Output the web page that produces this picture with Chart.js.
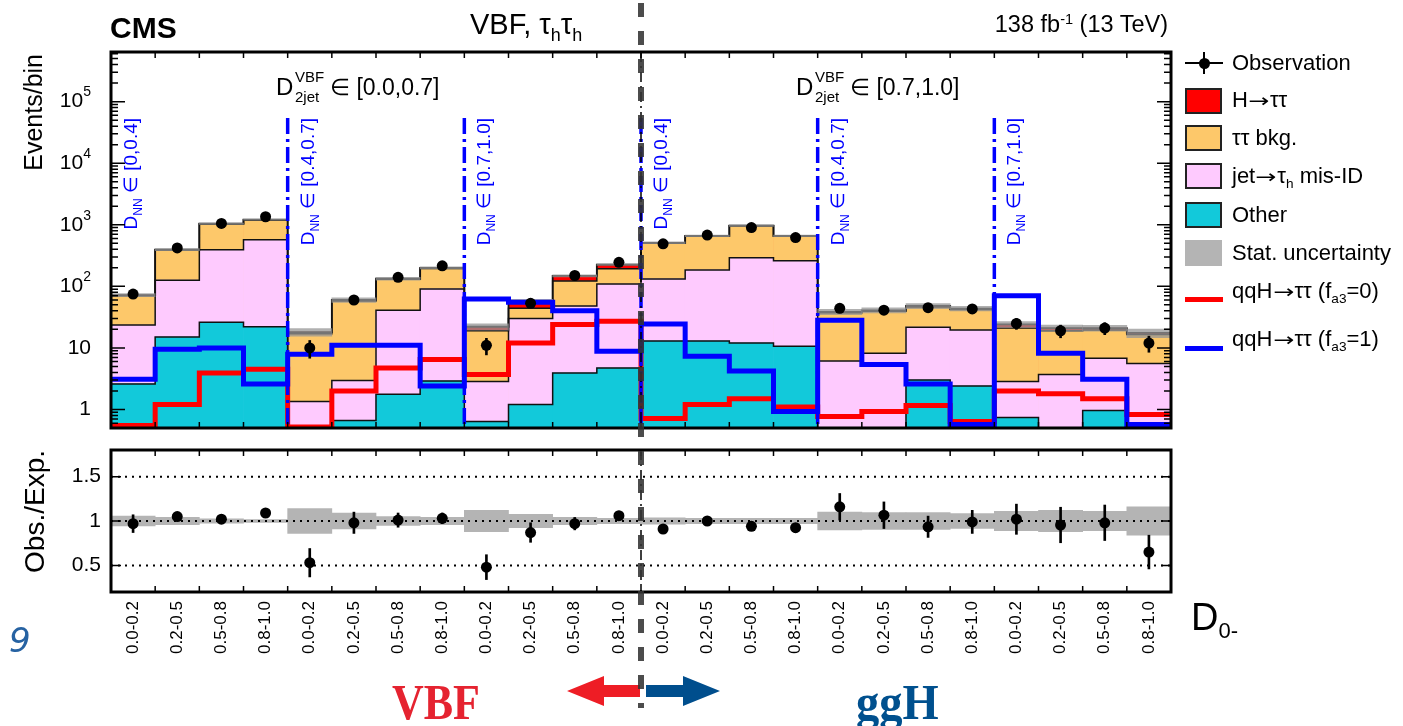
<!DOCTYPE html>
<html>
<head>
<meta charset="utf-8">
<title>VBF tau_h tau_h, D0- distribution</title>
<script src="https://cdn.jsdelivr.net/npm/chart.js@4.4.1/dist/chart.umd.min.js"></script>
<style>
  html, body { margin: 0; background: #fff; }
  #page { position: relative; width: 1403px; height: 726px; overflow: hidden; font-family: "Liberation Sans", Arial, Helvetica, sans-serif; }
  #page canvas { position: absolute; left: 0; }
  .t { position: absolute; white-space: nowrap; line-height: 1; color: #000; }
  .sub { font-size: 0.62em; position: relative; top: 0.38em; }
  .sup { font-size: 0.62em; position: relative; top: -0.52em; }
  .ar { font-family: "DejaVu Sans", sans-serif; font-size: 0.85em; display: inline-block; transform: scaleX(1.35); margin: 0 0.17em; }
  .box { position: absolute; left: 1185px; width: 37px; height: 26px; box-sizing: border-box; border: 2px solid #222; }
  .lline { position: absolute; left: 1185px; width: 38px; height: 5px; }
</style>
</head>
<body>
<div id="page">
  <canvas id="main" width="1403" height="440" style="top:0"></canvas>
  <canvas id="ratio" width="1403" height="240" style="top:440px"></canvas>
  <canvas id="deco" width="1403" height="726" style="top:0"></canvas>

  <!-- header -->
  <div class="t" style="left:110px;top:13px;font-size:30px;font-weight:bold;">CMS</div>
  <div class="t" style="left:470px;top:10px;font-size:29px;">VBF, τ<span class="sub">h</span>τ<span class="sub">h</span></div>
  <div class="t" style="right:235px;top:13px;font-size:23.5px;">138 fb<span class="sup">-1</span> (13 TeV)</div>

  <!-- D_2jet annotations -->
  <div class="t" style="left:276px;top:75px;font-size:24px;">D</div>
  <div class="t" style="left:295px;top:69px;font-size:15px;">VBF</div>
  <div class="t" style="left:295px;top:89px;font-size:15px;">2jet</div>
  <div class="t" style="left:330px;top:76px;font-size:23px;">∈ [0.0,0.7]</div>
  <div class="t" style="left:796px;top:75px;font-size:24px;">D</div>
  <div class="t" style="left:815px;top:69px;font-size:15px;">VBF</div>
  <div class="t" style="left:815px;top:89px;font-size:15px;">2jet</div>
  <div class="t" style="left:850px;top:76px;font-size:23px;">∈ [0.7,1.0]</div>

  <!-- legend -->
  <div style="position:absolute;left:1185px;top:62px;width:38px;height:2px;background:#000"></div>
  <div style="position:absolute;left:1203px;top:52px;width:2px;height:22px;background:#000"></div>
  <div style="position:absolute;left:1199px;top:58px;width:11px;height:11px;border-radius:50%;background:#000"></div>
  <div class="t" style="left:1232px;top:52px;font-size:22px;">Observation</div>
  <div class="box" style="top:88px;background:#ff0000"></div>
  <div class="t" style="left:1232px;top:89px;font-size:22px;">H<span class="ar">→</span>ττ</div>
  <div class="box" style="top:125px;background:#fdc86a"></div>
  <div class="t" style="left:1232px;top:127px;font-size:22px;">ττ bkg.</div>
  <div class="box" style="top:163px;background:#fecafe"></div>
  <div class="t" style="left:1232px;top:165px;font-size:22px;">jet<span class="ar">→</span>τ<span class="sub">h</span> mis-ID</div>
  <div class="box" style="top:202px;background:#12c9da"></div>
  <div class="t" style="left:1232px;top:204px;font-size:22px;">Other</div>
  <div class="box" style="top:240px;background:#b4b4b4;border:none"></div>
  <div class="t" style="left:1232px;top:242px;font-size:22px;">Stat. uncertainty</div>
  <div class="lline" style="top:297px;background:#ff0000"></div>
  <div class="t" style="left:1232px;top:280px;font-size:22px;">qqH<span class="ar">→</span>ττ (f<span class="sub">a3</span>=0)</div>
  <div class="lline" style="top:346px;background:#0000ff"></div>
  <div class="t" style="left:1232px;top:328px;font-size:22px;">qqH<span class="ar">→</span>ττ (f<span class="sub">a3</span>=1)</div>

  <!-- x title and bottom labels -->
  <div class="t" style="left:1191px;top:598px;font-size:38px;">D<span style="font-size:0.58em;position:relative;top:0.35em">0-</span></div>
  <div class="t" style="left:9px;top:623px;font-size:34px;color:#2662a2;font-family:'DejaVu Sans',sans-serif;font-style:italic;">9</div>
  <div class="t" style="left:392px;top:677px;font-size:50px;font-weight:bold;font-family:'Liberation Serif',serif;color:#e52330;transform:scaleX(0.88);transform-origin:left top;">VBF</div>
  <div class="t" style="left:856px;top:677px;font-size:50px;font-weight:bold;font-family:'Liberation Serif',serif;color:#00508e;transform:scaleX(0.93);transform-origin:left top;">ggH</div>
</div>

<script>
// bin labels along D0- (six D_NN x D_2jet categories, four D0- bins each)
const binLabels = [
  '0.0-0.2', '0.2-0.5', '0.5-0.8', '0.8-1.0', '0.0-0.2', '0.2-0.5', '0.5-0.8', '0.8-1.0',
  '0.0-0.2', '0.2-0.5', '0.5-0.8', '0.8-1.0', '0.0-0.2', '0.2-0.5', '0.5-0.8', '0.8-1.0',
  '0.0-0.2', '0.2-0.5', '0.5-0.8', '0.8-1.0', '0.0-0.2', '0.2-0.5', '0.5-0.8', '0.8-1.0',
];

// stacked backgrounds, events per bin
const otherBkg = [2.6, 15, 26, 22, 0.4, 0.66, 1.76, 2.9, 0.64, 1.2, 3.9, 4.7, 12.9, 12.9, 12, 10.6, 0.3, 0.3, 3.0, 2.4, 0.74, 0.3, 0.96, 0.3];
const misIdBkg = [20.9, 111, 366, 548, 0.95, 2.3, 39, 88, 2.2, 28.8, 44, 104, 119, 172, 278, 249, 5.8, 7.9, 18.7, 17.1, 2.1, 3.4, 5.8, 5.3];
const ttBkg = [46.5, 264, 638, 630, 15.7, 55, 89, 104, 16.2, 14, 74, 84, 368, 465, 670, 390, 31, 31, 24.3, 22.5, 18.2, 15.3, 12.7, 10.9];
const hTauTau = [2, 5, 10, 10, 1, 2, 3, 5, 3, 13, 26, 32, 10, 10, 10, 10, 1.5, 1.5, 2, 1.5, 3, 2, 1.5, 1];
const statRel = [0.055, 0.04, 0.025, 0.015, 0.14, 0.09, 0.05, 0.04, 0.12, 0.075, 0.04, 0.03, 0.035, 0.03, 0.03, 0.03, 0.10, 0.095, 0.095, 0.085, 0.11, 0.12, 0.11, 0.16];

// qqH templates
const qqHfa30 = [0.55, 1.2, 3.9, 4.5, 0.52, 2.0, 4.7, 6.5, 3.7, 12, 24, 27, 0.71, 1.2, 1.5, 1.1, 0.77, 0.93, 1.16, 0.64, 2.0, 1.8, 1.5, 0.83];
const qqHfa31 = [3.1, 9.5, 10, 2.6, 7.9, 11, 11, 2.4, 62, 55, 40, 8.8, 24.5, 7.3, 4.2, 0.93, 28, 5.4, 2.6, 0.57, 70, 8.2, 3.1, 0.57];

// observation
const obsEvents = [75, 420, 1050, 1350, 10, 60, 140, 215, 11, 53, 150, 245, 490, 680, 900, 620, 44, 41, 45, 43, 25, 19, 21, 12];
const obsErr = [9, 20, 32, 37, 3.2, 7.7, 12, 15, 3.3, 7.3, 12, 16, 22, 26, 30, 25, 6.6, 6.4, 6.7, 6.6, 5, 4.4, 4.6, 3.5];

// ratio panel
const ratioObs = [0.97, 1.05, 1.02, 1.09, 0.53, 0.98, 1.01, 1.03, 0.48, 0.87, 0.97, 1.06, 0.91, 1.0, 0.94, 0.925, 1.16, 1.065, 0.935, 0.99, 1.02, 0.955, 0.98, 0.65];
const ratioErr = [0.1, 0.04, 0.03, 0.03, 0.16, 0.12, 0.08, 0.06, 0.14, 0.11, 0.07, 0.05, 0.03, 0.03, 0.03, 0.03, 0.15, 0.15, 0.12, 0.13, 0.17, 0.2, 0.2, 0.19];

// axis / annotation ticks
const yDecades = [0, 1, 2, 3, 4, 5];
const ratioTicks = [0.5, 1, 1.5];
const dnnEdges = [0, 4, 8, 12, 16, 20];
const dnnRanges = ['[0,0.4]', '[0.4,0.7]', '[0.7,1.0]', '[0,0.4]', '[0.4,0.7]', '[0.7,1.0]'];
const splitEdge = 12;

const FONT = '"Liberation Sans", Arial, sans-serif';
const nBins = binLabels.length;

// cumulative stack levels, bottom to top
const cumOther = otherBkg.slice();
const cumMisId = cumOther.map((v, i) => v + misIdBkg[i]);
const cumTT = cumMisId.map((v, i) => v + ttBkg[i]);
const cumTotal = cumTT.map((v, i) => v + hTauTau[i]);

// stepped outline points at bin edges (linear helper axis 0..nBins)
const steps = (vals) => vals.map((v, i) => ({ x: i, y: v })).concat([{ x: vals.length, y: vals[vals.length - 1] }]);

function vLine(ctx, x, y0, y1, color, width, dash) {
  ctx.save();
  ctx.strokeStyle = color; ctx.lineWidth = width; ctx.setLineDash(dash);
  ctx.beginPath(); ctx.moveTo(x, y0); ctx.lineTo(x, y1); ctx.stroke();
  ctx.restore();
}

const fillBar = (label, data, color, order) => ({
  type: 'bar', label, data, backgroundColor: color, borderWidth: 0, order,
  grouped: false, categoryPercentage: 1, barPercentage: 1, xAxisID: 'x',
});
const outline = (data, order, width) => ({
  type: 'line', data: steps(data), xAxisID: 'xs', stepped: true, borderColor: '#111',
  borderWidth: width, pointRadius: 0, fill: false, order,
});

const mainDecor = {
  id: 'mainDecor',
  afterDatasetsDraw(chart) {
    const { ctx, chartArea: a, scales: { xs, y } } = chart;
    // D_NN boundaries and labels
    dnnEdges.forEach((e, k) => {
      const x = xs.getPixelForValue(e);
      if (e > 0) vLine(ctx, x, a.top + 66, a.bottom, '#0000ff', 3.5, [16, 5, 3, 5]);
      ctx.save();
      ctx.translate(x + 26, a.top + 66);
      ctx.rotate(-Math.PI / 2);
      ctx.fillStyle = '#0000ff';
      const rest = ' \u2208 ' + dnnRanges[k];
      ctx.font = '19px ' + FONT; const wD = ctx.measureText('D').width; const wR = ctx.measureText(rest).width;
      ctx.font = '12px ' + FONT; const wN = ctx.measureText('NN').width;
      let px = -(wD + wN + wR);
      ctx.font = '19px ' + FONT; ctx.fillText('D', px, 0); px += wD;
      ctx.font = '12px ' + FONT; ctx.fillText('NN', px, 5); px += wN;
      ctx.font = '19px ' + FONT; ctx.fillText(rest, px, 0);
      ctx.restore();
    });
    vLine(ctx, xs.getPixelForValue(splitEdge), a.top, a.bottom, '#000', 1.5, [10, 4, 2, 4]);

    // ticks and frame
    ctx.save();
    ctx.strokeStyle = '#000'; ctx.lineWidth = 1.5;
    ctx.beginPath();
    for (let e = 0; e <= nBins; e++) {
      const x = xs.getPixelForValue(e);
      ctx.moveTo(x, a.bottom); ctx.lineTo(x, a.bottom - 6);
      ctx.moveTo(x, a.top); ctx.lineTo(x, a.top + 6);
    }
    for (let d = -1; d <= 6; d++) {
      for (let m = 1; m <= 9; m++) {
        const v = m * Math.pow(10, d);
        if (v < y.min || v > y.max) continue;
        const py = y.getPixelForValue(v);
        const len = m === 1 ? 14 : 7;
        ctx.moveTo(a.left, py); ctx.lineTo(a.left + len, py);
        ctx.moveTo(a.right, py); ctx.lineTo(a.right - len, py);
      }
    }
    ctx.stroke();
    ctx.lineWidth = 3;
    ctx.strokeRect(a.left, a.top, a.right - a.left, a.bottom - a.top);

    // y tick labels
    ctx.fillStyle = '#000'; ctx.textBaseline = 'middle';
    const xr = a.left - 20;
    yDecades.forEach((d) => {
      const py = y.getPixelForValue(Math.pow(10, d));
      ctx.font = '21px ' + FONT;
      if (d < 2) {
        ctx.textAlign = 'right'; ctx.fillText(d === 0 ? '1' : '10', xr, py);
      } else {
        ctx.textAlign = 'left';
        const w10 = ctx.measureText('10').width;
        ctx.font = '14px ' + FONT;
        const ws = ctx.measureText(String(d)).width;
        ctx.font = '21px ' + FONT; ctx.fillText('10', xr - ws - w10, py);
        ctx.font = '14px ' + FONT; ctx.fillText(String(d), xr - ws, py - 9);
      }
    });
    // y title
    ctx.translate(42, a.top + 2);
    ctx.rotate(-Math.PI / 2);
    ctx.textAlign = 'right'; ctx.textBaseline = 'alphabetic';
    ctx.font = '25px ' + FONT;
    ctx.fillText('Events/bin', 0, 0);
    ctx.restore();
  },
};

const ratioDecor = {
  id: 'ratioDecor',
  afterDatasetsDraw(chart) {
    const { ctx, chartArea: a, scales: { x, xs, y } } = chart;
    vLine(ctx, xs.getPixelForValue(splitEdge), a.top, a.bottom, '#000', 1.5, [10, 4, 2, 4]);
    ctx.save();
    ctx.strokeStyle = '#000'; ctx.lineWidth = 1.5;
    ctx.beginPath();
    for (let e = 0; e <= nBins; e++) {
      const px = xs.getPixelForValue(e);
      ctx.moveTo(px, a.bottom); ctx.lineTo(px, a.bottom - 6);
      ctx.moveTo(px, a.top); ctx.lineTo(px, a.top + 6);
    }
    ratioTicks.forEach((t) => {
      const py = y.getPixelForValue(t);
      ctx.moveTo(a.left, py); ctx.lineTo(a.left + 10, py);
      ctx.moveTo(a.right, py); ctx.lineTo(a.right - 10, py);
    });
    ctx.stroke();
    ctx.lineWidth = 3;
    ctx.strokeRect(a.left, a.top, a.right - a.left, a.bottom - a.top);

    ctx.fillStyle = '#000';
    ctx.font = '21px ' + FONT; ctx.textAlign = 'right'; ctx.textBaseline = 'middle';
    ratioTicks.forEach((t) => ctx.fillText(String(t), a.left - 10, y.getPixelForValue(t)));

    ctx.font = '17px ' + FONT;
    binLabels.forEach((lab, i) => {
      ctx.save();
      ctx.translate(x.getPixelForValue(i), a.bottom + 9);
      ctx.rotate(-Math.PI / 2);
      ctx.textAlign = 'right'; ctx.textBaseline = 'middle';
      ctx.fillText(lab, 0, 0);
      ctx.restore();
    });

    ctx.translate(44, a.top);
    ctx.rotate(-Math.PI / 2);
    ctx.textAlign = 'right'; ctx.textBaseline = 'alphabetic';
    ctx.font = '28px ' + FONT;
    ctx.fillText('Obs./Exp.', 0, 0);
    ctx.restore();
  },
};

const common = {
  responsive: false, animation: false, events: [], devicePixelRatio: 1,
  plugins: { legend: { display: false }, tooltip: { enabled: false } },
};

const mainChart = new Chart(document.getElementById('main'), {
  type: 'bar',
  data: {
    labels: binLabels,
    datasets: [
      { type: 'line', data: obsEvents, xAxisID: 'x', showLine: false, pointRadius: 5.5, pointBackgroundColor: '#000', pointBorderWidth: 0, order: 1 },
      { type: 'bar', data: obsEvents.map((v, i) => [v - obsErr[i], v + obsErr[i]]), backgroundColor: '#000', barThickness: 2, grouped: false, xAxisID: 'x', order: 2 },
      { type: 'line', data: steps(qqHfa31), xAxisID: 'xs', stepped: true, borderColor: '#0000ff', borderWidth: 5, pointRadius: 0, order: 4 },
      { type: 'line', data: steps(qqHfa30), xAxisID: 'xs', stepped: true, borderColor: '#ff0000', borderWidth: 5, pointRadius: 0, order: 5 },
      { type: 'bar', data: cumTotal.map((v, i) => [v * (1 - statRel[i]), v * (1 + statRel[i])]), backgroundColor: 'rgba(150,150,150,0.75)', borderWidth: 0, grouped: false, categoryPercentage: 1, barPercentage: 1, xAxisID: 'x', order: 10 },
      outline(cumTotal, 11, 1.8),
      outline(cumTT, 12, 1.5),
      outline(cumMisId, 13, 1.5),
      outline(cumOther, 14, 1.5),
      fillBar('Other', cumOther, '#12c9da', 15),
      fillBar('jet→τh mis-ID', cumMisId, '#fecafe', 16),
      fillBar('ττ bkg.', cumTT, '#fdc86a', 17),
      fillBar('H→ττ', cumTotal, '#ff0000', 18),
    ],
  },
  options: {
    ...common,
    layout: { padding: { left: 111, right: 232, top: 52, bottom: 12 } },
    scales: {
      x: { type: 'category', display: false, offset: true },
      xs: { type: 'linear', display: false, min: 0, max: nBins, offset: false },
      y: { type: 'logarithmic', display: false, min: 0.5, max: 6.4e5 },
    },
  },
  plugins: [mainDecor],
});

const ratioChart = new Chart(document.getElementById('ratio'), {
  type: 'bar',
  data: {
    labels: binLabels,
    datasets: [
      { type: 'line', data: ratioObs, xAxisID: 'x', showLine: false, pointRadius: 5.5, pointBackgroundColor: '#000', pointBorderWidth: 0, order: 1 },
      { type: 'bar', data: ratioObs.map((v, i) => [v - ratioErr[i], v + ratioErr[i]]), backgroundColor: '#000', barThickness: 2, grouped: false, xAxisID: 'x', order: 2 },
      ...ratioTicks.map((t, k) => ({ type: 'line', data: [{ x: 0, y: t }, { x: nBins, y: t }], xAxisID: 'xs', borderColor: '#000', borderWidth: 2, borderDash: [2, 5], pointRadius: 0, order: 5 + k })),
      { type: 'bar', data: statRel.map((e) => [1 - e, 1 + e]), backgroundColor: '#b4b4b4', borderWidth: 0, grouped: false, categoryPercentage: 1, barPercentage: 1, xAxisID: 'x', order: 10 },
    ],
  },
  options: {
    ...common,
    layout: { padding: { left: 111, right: 232, top: 10, bottom: 88 } },
    scales: {
      x: { type: 'category', display: false, offset: true },
      xs: { type: 'linear', display: false, min: 0, max: nBins, offset: false },
      y: { type: 'linear', display: false, min: 0.2, max: 1.8 },
    },
  },
  plugins: [ratioDecor],
});

// overlay: VBF/ggH split line and arrows
(function drawDeco() {
  const c = document.getElementById('deco');
  const ctx = c.getContext('2d');
  const xSplit = mainChart.scales.xs.getPixelForValue(splitEdge);
  const yArrow = 691;
  ctx.fillStyle = '#ee1d25';
  ctx.beginPath();
  ctx.moveTo(xSplit - 74, yArrow); ctx.lineTo(xSplit - 37, yArrow - 15); ctx.lineTo(xSplit - 37, yArrow - 6);
  ctx.lineTo(xSplit - 1, yArrow - 6); ctx.lineTo(xSplit - 1, yArrow + 6); ctx.lineTo(xSplit - 37, yArrow + 6);
  ctx.lineTo(xSplit - 37, yArrow + 15); ctx.closePath(); ctx.fill();
  ctx.fillStyle = '#004e8d';
  ctx.beginPath();
  ctx.moveTo(xSplit + 79, yArrow); ctx.lineTo(xSplit + 42, yArrow - 15); ctx.lineTo(xSplit + 42, yArrow - 6);
  ctx.lineTo(xSplit + 5, yArrow - 6); ctx.lineTo(xSplit + 5, yArrow + 6); ctx.lineTo(xSplit + 42, yArrow + 6);
  ctx.lineTo(xSplit + 42, yArrow + 15); ctx.closePath(); ctx.fill();
  ctx.globalAlpha = 0.88;
  vLine(ctx, xSplit, 3, 708, '#333', 6, [14, 14]);
})();
</script>
</body>
</html>
